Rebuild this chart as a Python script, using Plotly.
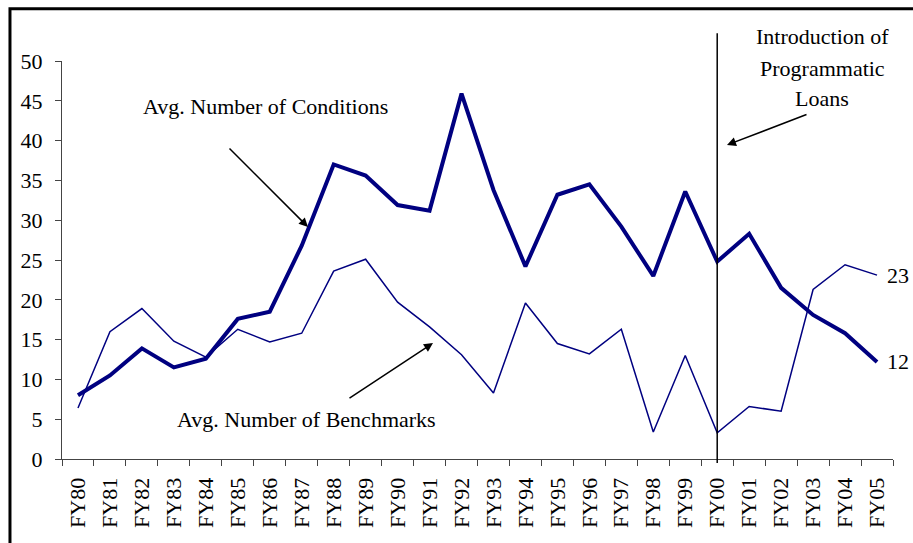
import plotly.graph_objects as go

years = ["FY80","FY81","FY82","FY83","FY84","FY85","FY86","FY87","FY88","FY89",
         "FY90","FY91","FY92","FY93","FY94","FY95","FY96","FY97","FY98","FY99",
         "FY00","FY01","FY02","FY03","FY04","FY05"]
conditions = [8.0,10.5,13.9,11.5,12.6,17.6,18.5,26.8,37.0,35.6,
              31.9,31.2,45.9,33.8,24.2,33.2,34.5,29.2,23.0,33.6,
              24.8,28.3,21.5,18.1,15.8,12.2]
benchmarks = [6.4,16.0,18.9,14.8,12.8,16.3,14.7,15.8,23.6,25.1,
              19.7,16.6,13.1,8.3,19.6,14.5,13.2,16.3,3.4,13.0,
              3.3,6.6,6.0,21.3,24.4,23.1]
y_ticks = [0,5,10,15,20,25,30,35,40,45,50]

navy = "#000080"
FONT = "Liberation Serif, Times New Roman, serif"
FS = 22

fig = go.Figure()
fig.add_trace(go.Scatter(x=years, y=benchmarks, mode="lines",
                         line=dict(color=navy, width=1.5), showlegend=False))
fig.add_trace(go.Scatter(x=years, y=conditions, mode="lines",
                         line=dict(color=navy, width=4), showlegend=False))

fig.update_layout(
    width=913, height=543,
    margin=dict(l=62, r=20, t=61, b=84),
    paper_bgcolor="white", plot_bgcolor="white",
    font=dict(family=FONT, size=FS, color="black"),
    xaxis=dict(type="category", categoryorder="array", categoryarray=years,
               tickangle=-90, ticks="outside", tickson="boundaries", ticklen=6,
               tickcolor="#444", showline=True, linecolor="#444", linewidth=1,
               showgrid=False, zeroline=False, tickfont=dict(size=FS, family=FONT),
               ticklabelstandoff=9, range=[-0.5, 25.5]),
    yaxis=dict(range=[0, 50], tickvals=y_ticks, ticks="outside", ticklen=6,
               tickcolor="#444", showline=True, linecolor="#444", linewidth=1,
               showgrid=False, zeroline=False, tickfont=dict(size=FS, family=FONT),
               ticklabelstandoff=8),
)

# vertical marker line at FY00
fig.add_shape(type="line", xref="x", yref="paper", x0="FY00", x1="FY00",
              y0=-0.01, y1=1.07, line=dict(color="black", width=1.5))

# outer frame
fig.add_shape(type="rect", xref="paper", yref="paper",
              x0=-0.0626, x1=1.1, y0=-0.4, y1=1.131,
              line=dict(color="black", width=3))

def px_x(px):
    return (px - 62) / 831

def px_y(py):
    return (459 - py) / 398

annots = [
    dict(text="Introduction of", x=px_x(822), y=px_y(37)),
    dict(text="Programmatic", x=px_x(822), y=px_y(68)),
    dict(text="Loans", x=px_x(822), y=px_y(98)),
    dict(text="Avg. Number of Conditions", x=px_x(265), y=px_y(106)),
    dict(text="Avg. Number of Benchmarks", x=px_x(306), y=px_y(419)),
]
for a in annots:
    fig.add_annotation(text=a["text"], x=a["x"], y=a["y"], xref="paper", yref="paper",
                       showarrow=False, font=dict(family=FONT, size=FS, color="black"),
                       xanchor="center", yanchor="middle")

fig.add_annotation(text="23", x=years[-1], y=benchmarks[-1], xref="x", yref="y",
                   showarrow=False, xanchor="left", xshift=8,
                   font=dict(family=FONT, size=FS, color="black"))
fig.add_annotation(text="12", x=years[-1], y=conditions[-1], xref="x", yref="y",
                   showarrow=False, xanchor="left", xshift=8,
                   font=dict(family=FONT, size=FS, color="black"))

arrows = [
    ((228, 147), (308, 227)),
    ((348, 399), (433, 343)),
    ((808, 114), (727, 145)),
]
for (sx, sy), (ex, ey) in arrows:
    fig.add_annotation(x=px_x(ex), y=px_y(ey), ax=px_x(sx), ay=px_y(sy),
                       xref="x domain", yref="y domain",
                       axref="x domain", ayref="y domain",
                       text="", showarrow=True, arrowhead=2, arrowsize=1.2,
                       arrowwidth=1.5, arrowcolor="black")

fig.write_html("out.html", config={"displayModeBar": False},
               post_script="document.body.style.margin='0px';"
                           "document.body.style.overflow='hidden';")
